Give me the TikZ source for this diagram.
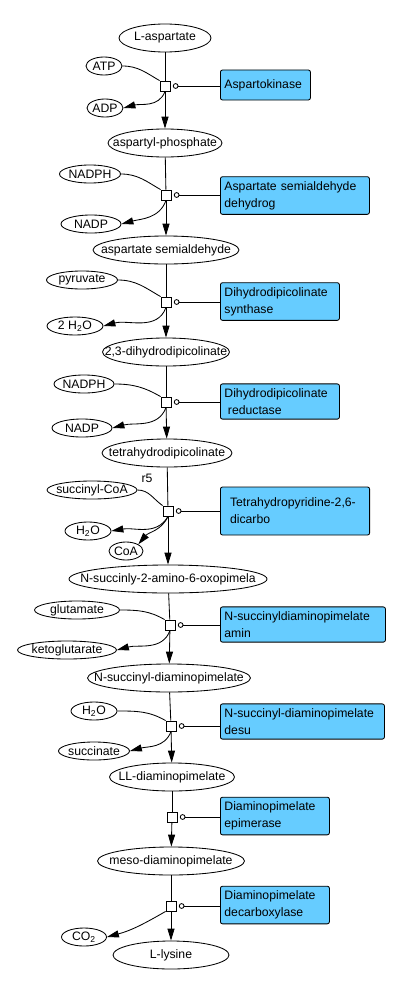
\documentclass[tikz,border=0pt]{standalone}
\usepackage{fontspec}
\setmainfont{Liberation Sans}
\usepackage{xcolor}
\usetikzlibrary{arrows.meta,shapes,positioning}
\definecolor{enzblue}{RGB}{102,204,255}
\tikzset{
  met/.style={ellipse,draw,inner sep=0pt,minimum width=#1*0.025cm,minimum height=0.7cm,
    execute at begin node={\hbox to 0pt\bgroup\hss},execute at end node={\hss\egroup}},
  sub/.style={met=#1,minimum height=0.45cm},
  rxn/.style={draw,fill=white,inner sep=0pt,minimum size=0.25cm},
  cat/.style={circle,draw,inner sep=0pt,minimum size=0.12cm},
  enz/.style={draw,rounded corners=1.5pt,fill=enzblue,align=left,anchor=west,inner xsep=0.1cm,
    text width=#1*0.025cm,minimum height=0.875cm},
  tip/.style={-{Triangle[length=8.5pt,width=5pt]}}
}
\begin{document}
\begin{tikzpicture}[x=0.025cm,y=-0.025cm,line width=0.6pt,font=\fontsize{8.7}{12}\selectfont]
\useasboundingbox (0,0) rectangle (400,1000);
% metabolites on the main chain
\node[met=92] (asp) at (165,38) {L-aspartate};
\node[met=114] (aspp) at (165,143) {aspartyl-phosphate};
\node[met=146] (asa) at (166,250) {aspartate semialdehyde};
\node[met=127] (dhdp) at (166,352) {2,3-dihydrodipicolinate};
\node[met=130] (thdp) at (167,453) {tetrahydrodipicolinate};
\node[met=198] (nsao) at (168,579) {N-succinly-2-amino-6-oxopimela};
\node[met=163] (nsdap) at (169,678) {N-succinyl-diaminopimelate};
\node[met=125] (lldap) at (172,777) {LL-diaminopimelate};
\node[met=147] (meso) at (171,861) {meso-diaminopimelate};
\node[met=116] (lys) at (171,955) {L-lysine};
% side metabolites
\node[sub=36] (atp) at (104,66) {ATP};
\node[sub=36] (adp) at (105,108) {ADP};
\node[sub=61] (nadpha) at (90,174) {NADPH};
\node[sub=60] (nadpa) at (91,224) {NADP};
\node[sub=71] (pyr) at (82,280) {pyruvate};
\node[sub=56] (wata) at (75,326) {2 H\textsubscript{2}O};
\node[sub=60] (nadphb) at (84,384) {NADPH};
\node[sub=60] (nadpb) at (82,428) {NADP};
\node[sub=90] (succoa) at (92,490) {succinyl-CoA};
\node[sub=46] (watb) at (88,531) {H\textsubscript{2}O};
\node[sub=34] (coa) at (126,551) {CoA};
\node[sub=85] (glu) at (77,610) {glutamate};
\node[sub=99] (akg) at (67,650) {ketoglutarate};
\node[sub=46] (watc) at (94,711) {H\textsubscript{2}O};
\node[sub=71] (succ) at (94,751) {succinate};
\node[sub=45] (co2) at (84,937) {CO\textsubscript{2}};
% reactions
\node[rxn] (r1) at (165,86) {};
\node[rxn] (r2) at (166,195) {};
\node[rxn] (r3) at (166,302) {};
\node[rxn] (r4) at (166,402) {};
\node[rxn] (r5) at (168,511) {};
\node[rxn] (r6) at (170,625) {};
\node[rxn] (r7) at (171,726) {};
\node[rxn] (r8) at (172,817) {};
\node[rxn] (r9) at (171,906) {};
\node (lab5) at (147,478) {r5};
\node[cat,right=0.06cm of r1] (c1) {};
\node[cat,right=0.06cm of r2] (c2) {};
\node[cat,right=0.06cm of r3] (c3) {};
\node[cat,right=0.06cm of r4] (c4) {};
\node[cat,right=0.06cm of r5] (c5) {};
\node[cat,right=0.06cm of r6] (c6) {};
\node[cat,right=0.06cm of r7] (c7) {};
\node[cat,right=0.06cm of r8] (c8) {};
\node[cat,right=0.06cm of r9] (c9) {};
% enzymes
\node[enz=82,minimum height=0.75cm] (e1) at (220,85) {Aspartokinase};
\node[enz=141] (e2) at (220,195.5) {Aspartate semialdehyde\\dehydrog};
\node[enz=111] (e3) at (220,301.5) {Dihydrodipicolinate\\synthase};
\node[enz=111] (e4) at (220,401.5) {Dihydrodipicolinate\\\hspace*{2.5pt}reductase};
\node[enz=130,inner xsep=0.24cm,minimum height=1.2cm] (e5) at (220,511) {Tetrahydropyridine-2,6-\\dicarbo};
\node[enz=157] (e6) at (220,624.5) {N-succinyldiaminopimelate\\amin};
\node[enz=156] (e7) at (220,721.5) {N-succinyl-diaminopimelate\\desu};
\node[enz=101] (e8) at (220,816) {Diaminopimelate\\epimerase};
\node[enz=101] (e9) at (220,905) {Diaminopimelate\\decarboxylase};
% main chain
\draw (asp) -- (r1);
\draw[tip] (r1) -- (aspp);
\draw (aspp) -- (r2);
\draw[tip] (r2) -- (asa);
\draw (asa) -- (r3);
\draw[tip] (r3) -- (dhdp);
\draw (dhdp) -- (r4);
\draw[tip] (r4) -- (thdp);
\draw (thdp) -- (r5);
\draw[tip] (r5) -- (nsao);
\draw (nsao) -- (r6);
\draw[tip] (r6) -- (nsdap);
\draw (nsdap) -- (r7);
\draw[tip] (r7) -- (lldap);
\draw (lldap) -- (r8);
\draw[tip] (r8) -- (meso);
\draw (meso) -- (r9);
\draw[tip] (r9) -- (lys);
% side reactants and products
\draw (atp.east) to[out=0,in=150] (r1.north west);
\draw[tip] (r1.south) to[out=-110,in=15] (adp.east);
\draw (nadpha.east) to[out=0,in=150] (r2.north west);
\draw[tip] (r2.south) to[out=-110,in=15] (nadpa.east);
\draw (pyr.east) to[out=0,in=150] (r3.north west);
\draw[tip] (r3.south) to[out=-110,in=15] (wata.east);
\draw (nadphb.east) to[out=0,in=150] (r4.north west);
\draw[tip] (r4.south) to[out=-110,in=15] (nadpb.east);
\draw (succoa.east) to[out=0,in=145] (r5.north west);
\draw[tip] (r5.south) to[out=-120,in=10] (watb.east);
\draw[tip] (r5.south) to[out=-115,in=50] (coa.north east);
\draw (glu.east) to[out=0,in=150] (r6.north west);
\draw[tip] (r6.south) to[out=-110,in=15] (akg.east);
\draw (watc.east) to[out=0,in=150] (r7.north west);
\draw[tip] (r7.south) to[out=-110,in=15] (succ.east);
\draw[tip] (r9.south west) to[out=-150,in=15] (co2.east);
% catalysts
\draw (c1) -- (c1 -| e1.west);
\draw (c2) -- (c2 -| e2.west);
\draw (c3) -- (c3 -| e3.west);
\draw (c4) -- (c4 -| e4.west);
\draw (c5) -- (c5 -| e5.west);
\draw (c6) -- (c6 -| e6.west);
\draw (c7) -- (c7 -| e7.west);
\draw (c8) -- (c8 -| e8.west);
\draw (c9) -- (c9 -| e9.west);
\end{tikzpicture}
\end{document}
